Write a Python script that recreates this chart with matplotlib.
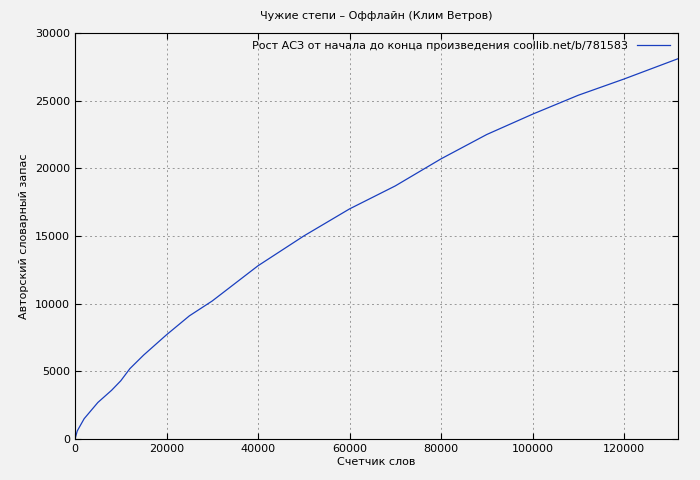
import matplotlib
matplotlib.use("Agg")
import matplotlib.pyplot as plt

# word counter vs author's vocabulary
words = [0, 500, 2000, 5000, 8000, 10000, 12000, 15000, 20000, 25000, 30000,
         40000, 50000, 60000, 70000, 80000, 90000, 100000, 110000, 120000, 131800]
vocab = [0, 600, 1500, 2700, 3600, 4300, 5200, 6200, 7700, 9100, 10200,
         12800, 15000, 17000, 18700, 20700, 22500, 24000, 25400, 26600, 28100]

plt.rcParams['font.family'] = ['DejaVu Sans']
plt.rcParams['font.size'] = 8

fig = plt.figure(figsize=(7, 4.8), dpi=100, facecolor='#f2f2f2')
ax = fig.add_axes([75/700, 1-439/480, 603/700, 406/480])
ax.set_facecolor('#f2f2f2')

ax.plot(words, vocab, color='#1a3fbf', lw=0.9,
        label='Рост АСЗ от начала до конца произведения coollib.net/b/781583')

ax.set_xlim(0, 131800)
ax.set_ylim(0, 30000)
ax.set_xticks(range(0, 130000, 20000))
ax.set_yticks(range(0, 30001, 5000))
ax.grid(True, color='#999999', linestyle=(0, (2, 3)), lw=0.7)
ax.tick_params(direction='in', length=4, top=True, right=True)
for s in ax.spines.values():
    s.set_linewidth(0.8)

ax.set_title('Чужие степи – Оффлайн (Клим Ветров)', fontsize=8, pad=10)
ax.set_xlabel('Счетчик слов', labelpad=2)
ax.set_ylabel('Авторский словарный запас')

leg = ax.legend(loc='upper right', frameon=False, markerfirst=False,
                handlelength=3, borderaxespad=0.3)

fig.savefig('out.png', dpi=100, facecolor=fig.get_facecolor())
